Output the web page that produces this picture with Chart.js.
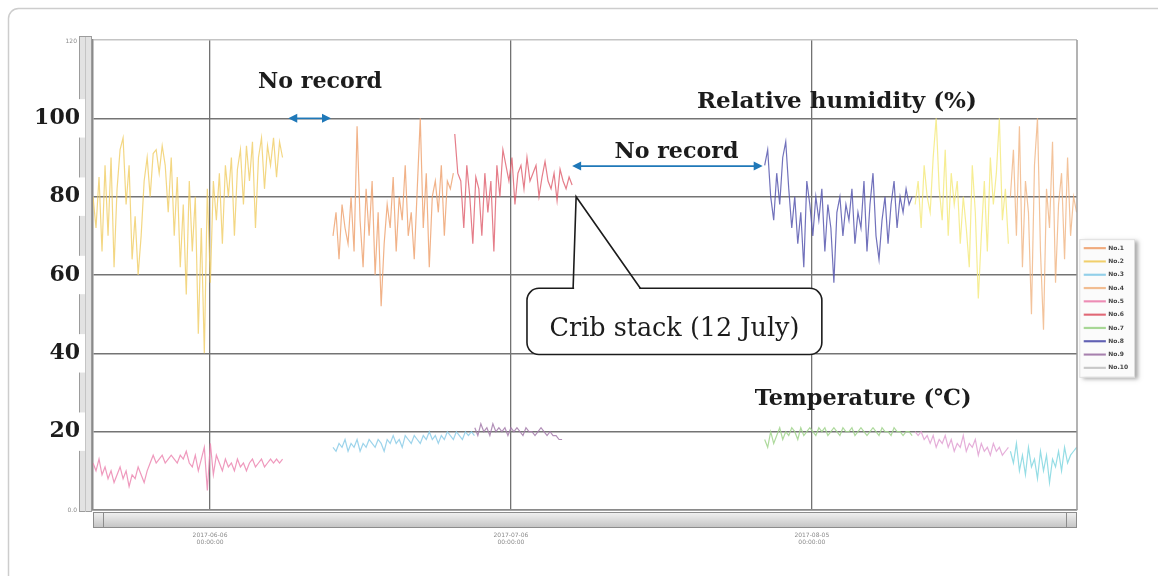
<!DOCTYPE html>
<html>
<head>
<meta charset="utf-8">
<script src="https://cdn.jsdelivr.net/npm/chart.js@4.4.1/dist/chart.umd.min.js"></script>
<style>
  html, body { margin: 0; padding: 0; background: #fff; overflow: hidden; }
</style>
</head>
<body>
<canvas id="rhChart" width="1158" height="576"></canvas>
<script>
// time axis in days since 2017-06-06 00:00, one reading kept every 0.3 day
const stepDays = 0.3;
const tickDays = [0, 30, 60];
const tickLabels = [['2017-06-06', '00:00:00'], ['2017-07-06', '00:00:00'], ['2017-08-05', '00:00:00']];
const yTicks = [20, 40, 60, 80, 100];
const channels = ['No.1', 'No.2', 'No.3', 'No.4', 'No.5', 'No.6', 'No.7', 'No.8', 'No.9', 'No.10'];

// relative humidity (%)
const rhNo2a = [80, 72, 85, 66, 88, 70, 90, 62, 82, 92, 95, 78, 88, 64, 75, 60, 70, 84, 90, 80,
                91, 92, 86, 93, 88, 76, 90, 70, 85, 62, 78, 55, 84, 66, 80, 45, 72, 40, 82, 58,
                84, 74, 86, 68, 88, 80, 90, 70, 87, 92, 78, 93, 84, 94, 72, 90, 95, 82, 93, 88,
                95, 85, 94, 90];
const rhNo1  = [70, 76, 64, 78, 72, 68, 80, 66, 98, 74, 62, 82, 70, 84, 60, 76, 52, 68, 78, 72,
                85, 66, 80, 74, 88, 70, 76, 64, 82, 100, 72, 86, 62, 80, 84, 76, 88, 70, 84, 82, 86];
const rhNo6  = [96, 86, 84, 72, 88, 80, 68, 85, 82, 70, 86, 76, 84, 66, 88, 80, 92, 88, 84, 90,
                78, 86, 88, 82, 90, 84, 86, 88, 80, 85, 89, 84, 82, 86, 79, 87, 84, 82, 85, 83];
const rhNo8  = [88, 92, 80, 74, 86, 78, 90, 94, 82, 72, 80, 68, 76, 62, 84, 78, 70, 80, 74, 82,
                66, 78, 72, 58, 76, 80, 70, 78, 74, 82, 68, 76, 72, 84, 66, 78, 86, 70, 64, 74,
                80, 68, 78, 84, 72, 80, 76, 82, 78, 80];
const rhNo2b = [78, 84, 72, 88, 80, 76, 90, 100, 82, 74, 92, 70, 86, 78, 84, 68, 80, 72, 62, 88,
                76, 54, 70, 84, 66, 90, 78, 86, 100, 74, 82, 68];
const rhNo4  = [80, 92, 70, 98, 62, 84, 76, 50, 88, 100, 66, 46, 82, 72, 94, 58, 78, 86, 64, 90,
                70, 80, 76];

// temperature (℃)
const tNo5a = [12, 10, 13, 9, 11, 8, 10, 7, 9, 11, 8, 10, 6, 9, 8, 11, 9, 7, 10, 12,
               14, 12, 13, 14, 12, 13, 14, 13, 12, 14, 13, 15, 12, 11, 14, 10, 13, 16, 5, 17,
               9, 14, 12, 10, 13, 11, 12, 10, 13, 11, 12, 10, 12, 13, 11, 12, 13, 11, 12, 13,
               12, 13, 12, 13];
const tNo3a = [16, 15, 17, 16, 18, 15, 17, 16, 18, 15, 17, 16, 18, 17, 16, 18, 17, 15, 18, 17,
               19, 17, 18, 16, 19, 18, 17, 19, 18, 17, 19, 18, 20, 18, 19, 17, 19, 18, 20, 19,
               18, 20, 19, 18, 20, 19, 20, 19];
const tNo9  = [21, 19, 22, 20, 21, 19, 22, 20, 21, 20, 21, 19, 21, 20, 21, 20, 19, 21, 20, 20,
               19, 20, 21, 20, 19, 20, 19, 19, 18, 18];
const tNo7  = [18, 16, 20, 17, 19, 21, 18, 20, 19, 21, 20, 18, 21, 19, 20, 21, 20, 19, 21, 20,
               21, 19, 20, 21, 20, 19, 21, 20, 20, 21, 19, 20, 21, 20, 19, 20, 21, 20, 19, 21,
               20, 20, 19, 21, 20, 20, 19, 20, 20, 19];
const tNo5b = [20, 19, 20, 18, 19, 17, 19, 16, 18, 17, 19, 16, 18, 15, 17, 16, 19, 15, 17, 16,
               18, 14, 17, 15, 16, 14, 17, 15, 16, 14, 15, 16];
const tNo3b = [15, 12, 17, 10, 14, 9, 16, 11, 13, 8, 15, 10, 14, 7, 13, 11, 15, 10, 16, 12,
               14, 15, 16];

const toPoints = (start, values) => values.map((v, i) => ({ x: start + i * stepDays, y: v }));

const line = (label, color, start, values) => ({
    label,
    data: values ? toPoints(start, values) : [],
    borderColor: color,
    backgroundColor: color,
    borderWidth: 1.2,
    pointRadius: 0,
    tension: 0
});

const datasets = [
    line(channels[0], 'rgba(238,165,115,0.85)', 12.26, rhNo1),
    line(channels[1], 'rgba(240,205,100,0.8)', -11.67, rhNo2a),
    line(channels[1], 'rgba(244,232,120,0.8)', 70.3, rhNo2b),
    line(channels[2], 'rgba(140,205,232,0.85)', 12.26, tNo3a),
    line(channels[2], 'rgba(130,215,225,0.85)', 79.8, tNo3b),
    line(channels[3], 'rgba(240,180,130,0.8)', 79.8, rhNo4),
    line(channels[4], 'rgba(236,135,178,0.85)', -11.67, tNo5a),
    line(channels[4], 'rgba(225,160,210,0.85)', 70.3, tNo5b),
    line(channels[5], 'rgba(222,92,108,0.8)', 24.4, rhNo6),
    line(channels[6], 'rgba(160,212,140,0.85)', 55.3, tNo7),
    line(channels[7], 'rgba(88,88,175,0.85)', 55.3, rhNo8),
    line(channels[8], 'rgba(165,125,172,0.85)', 26.4, tNo9),
    line(channels[9], 'rgba(196,196,196,0.85)', 0, null)
];

const serif = "'DejaVu Serif', 'Liberation Serif', serif";

// font size that makes text span a given width
const fitFont = (ctx, text, weight, width) => {
    ctx.font = `${weight} 20px ${serif}`;
    return 20 * width / ctx.measureText(text).width;
};

const drawArrow = (ctx, x1, x2, y) => {
    const head = 9, half = 4.5;
    ctx.strokeStyle = '#1f78b8';
    ctx.fillStyle = '#1f78b8';
    ctx.lineWidth = 1.6;
    ctx.beginPath();
    ctx.moveTo(x1 + head - 1, y);
    ctx.lineTo(x2 - head + 1, y);
    ctx.stroke();
    ctx.beginPath();
    ctx.moveTo(x1, y); ctx.lineTo(x1 + head, y - half); ctx.lineTo(x1 + head, y + half);
    ctx.closePath(); ctx.fill();
    ctx.beginPath();
    ctx.moveTo(x2, y); ctx.lineTo(x2 - head, y - half); ctx.lineTo(x2 - head, y + half);
    ctx.closePath(); ctx.fill();
};

const decorPlugin = {
    id: 'decor',
    beforeDraw(chart) {
        const { ctx, chartArea: a, width, height } = chart;
        ctx.save();

        // page frame, only top and left edges are inside the picture
        ctx.strokeStyle = '#cdcdcd';
        ctx.lineWidth = 1.5;
        ctx.beginPath();
        ctx.moveTo(8.5, height);
        ctx.lineTo(8.5, 18.5);
        ctx.arcTo(8.5, 8.5, 18.5, 8.5, 10);
        ctx.lineTo(width, 8.5);
        ctx.stroke();

        // left scroll bar
        ctx.fillStyle = '#e2e2e2';
        ctx.fillRect(a.left - 13, a.top - 3, 12, a.bottom - a.top + 5);
        ctx.strokeStyle = '#9c9c9c';
        ctx.lineWidth = 1;
        ctx.strokeRect(a.left - 13.5, a.top - 3.5, 12, a.bottom - a.top + 5);
        ctx.beginPath();
        ctx.moveTo(a.left - 7.5, a.top - 3); ctx.lineTo(a.left - 7.5, a.bottom + 2);
        ctx.strokeStyle = '#c4c4c4';
        ctx.stroke();

        // bottom scroll bar
        const g = ctx.createLinearGradient(0, a.bottom + 2, 0, a.bottom + 17);
        g.addColorStop(0, '#f2f2f2');
        g.addColorStop(0.5, '#dcdcdc');
        g.addColorStop(1, '#c6c6c6');
        ctx.fillStyle = g;
        ctx.fillRect(a.left, a.bottom + 2, a.right - a.left, 15);
        ctx.strokeStyle = '#8c8c8c';
        ctx.strokeRect(a.left + 0.5, a.bottom + 2.5, a.right - a.left - 1, 15);
        ctx.strokeRect(a.left + 0.5, a.bottom + 2.5, 10, 15);
        ctx.strokeRect(a.right - 10.5, a.bottom + 2.5, 10, 15);

        // tiny labels of the logger software
        ctx.fillStyle = '#8a8a8a';
        ctx.font = "6px 'DejaVu Sans'";
        ctx.textAlign = 'right';
        ctx.textBaseline = 'middle';
        ctx.fillText('120', a.left - 16, a.top + 1);
        ctx.fillText('0.0', a.left - 16, a.bottom);

        // legend background with shadow
        const boxes = chart.legend.legendHitBoxes;
        if (boxes && boxes.length) {
            const left = Math.min(...boxes.map(b => b.left)) - 5;
            const right = Math.max(...boxes.map(b => b.left + b.width)) + 6;
            const top = Math.min(...boxes.map(b => b.top)) - 6;
            const bottom = Math.max(...boxes.map(b => b.top + b.height)) + 6;
            ctx.shadowColor = 'rgba(0,0,0,0.35)';
            ctx.shadowOffsetX = 4;
            ctx.shadowOffsetY = 2;
            ctx.shadowBlur = 4;
            ctx.fillStyle = '#fbfbfb';
            ctx.fillRect(left, top, right - left, bottom - top);
            ctx.shadowColor = 'transparent';
            ctx.strokeStyle = '#e0e0e0';
            ctx.strokeRect(left + 0.5, top + 0.5, right - left, bottom - top);
        }
        ctx.restore();
    },

    afterDraw(chart) {
        const { ctx, chartArea: a } = chart;
        const X = d => chart.scales.x.getPixelForValue(d);
        const Y = v => chart.scales.y.getPixelForValue(v);
        ctx.save();

        // right border of the plot
        ctx.strokeStyle = '#9a9a9a';
        ctx.lineWidth = 1.5;
        ctx.beginPath();
        ctx.moveTo(a.right, a.top); ctx.lineTo(a.right, a.bottom);
        ctx.stroke();

        // "no record" arrows
        drawArrow(ctx, X(7.8), X(12.06), Y(100));
        drawArrow(ctx, X(36.1), X(55.1), Y(87.8));

        // bold labels
        ctx.fillStyle = '#1c1c1c';
        ctx.textBaseline = 'alphabetic';
        const label = (text, width, x, y, align) => {
            ctx.font = `bold ${fitFont(ctx, text, 'bold', width)}px ${serif}`;
            ctx.textAlign = align;
            ctx.fillText(text, x, y);
        };
        label('No record', 124, X(10.97), Y(107.7), 'center');
        label('No record', 124, X(46.5), Y(89.8), 'center');
        label('Relative humidity (%)', 280, X(62.5), Y(102.6), 'center');
        label('Temperature (℃)', 217, X(54.3), Y(26.7), 'left');

        // callout for the crib stack
        const bl = X(31.6), br = X(61.0), bt = Y(56.6), bb = Y(39.7);
        const t1 = X(36.2), t2 = X(42.9), tip = [X(36.5), Y(80)];
        ctx.fillStyle = '#fff';
        ctx.strokeStyle = '#1c1c1c';
        ctx.lineWidth = 1.6;
        ctx.beginPath();
        ctx.roundRect(bl, bt, br - bl, bb - bt, 12);
        ctx.fill();
        ctx.stroke();
        ctx.beginPath();
        ctx.moveTo(t1 + 1, bt); ctx.lineTo(t2 - 1, bt);
        ctx.strokeStyle = '#fff';
        ctx.lineWidth = 2.5;
        ctx.stroke();
        ctx.beginPath();
        ctx.moveTo(t1, bt); ctx.lineTo(tip[0], tip[1]); ctx.lineTo(t2, bt);
        ctx.strokeStyle = '#1c1c1c';
        ctx.lineWidth = 1.6;
        ctx.stroke();

        const crib = 'Crib stack (12 July)';
        ctx.fillStyle = '#1c1c1c';
        ctx.font = `${fitFont(ctx, crib, 'normal', 250)}px ${serif}`;
        ctx.textAlign = 'center';
        ctx.fillText(crib, (bl + br) / 2, Y(44.3));
        ctx.restore();
    }
};

const config = {
    type: 'line',
    data: { datasets },
    plugins: [decorPlugin],
    options: {
        responsive: false,
        animation: false,
        layout: { padding: { top: 40, right: 25, left: 0, bottom: 0 } },
        scales: {
            x: {
                type: 'linear',
                min: -11.67,
                max: 86.44,
                afterBuildTicks: ax => { ax.ticks = tickDays.map(value => ({ value })); },
                afterFit: s => { s.height = 66; },
                ticks: {
                    autoSkip: false,
                    maxRotation: 0,
                    padding: 22,
                    color: '#8a8a8a',
                    font: { family: 'DejaVu Sans', size: 6 },
                    callback: v => tickLabels[tickDays.indexOf(v)]
                },
                grid: { color: '#727272', lineWidth: 1.3, drawTicks: false },
                border: { color: '#8a8a8a', width: 1.5 }
            },
            y: {
                min: 0,
                max: 120,
                afterBuildTicks: ax => { ax.ticks = [0, ...yTicks, 120].map(value => ({ value })); },
                afterFit: s => { s.width = 93; },
                ticks: {
                    padding: 13,
                    color: '#1c1c1c',
                    font: { family: serif, weight: 'bold', size: 22 },
                    showLabelBackdrop: true,
                    backdropColor: c => yTicks.includes(c.tick.value) ? '#fff' : 'rgba(0,0,0,0)',
                    backdropPadding: { top: 6, bottom: 6, left: 4, right: 5 },
                    callback: v => yTicks.includes(v) ? String(v) : ''
                },
                grid: {
                    color: c => c.tick.value === 120 ? '#c4c4c4' : c.tick.value === 0 ? '#8a8a8a' : '#747474',
                    lineWidth: 1.5,
                    drawTicks: false
                },
                border: { color: '#8a8a8a', width: 1.5 }
            }
        },
        plugins: {
            legend: {
                position: 'right',
                align: 'center',
                labels: {
                    boxWidth: 21,
                    boxHeight: 1,
                    padding: 7.3,
                    color: '#454545',
                    font: { family: 'DejaVu Sans', size: 6, weight: 'bold' },
                    filter: (item, data) =>
                        data.datasets.findIndex(d => d.label === item.text) === item.datasetIndex
                }
            },
            tooltip: { enabled: false }
        }
    }
};

const canvas = document.getElementById('rhChart');
const rhChart = new Chart(canvas, config);

// keep the plot's right edge where the logger software had it
const shift = rhChart.chartArea.right - 1077;
if (Math.abs(shift) > 0.5) {
    rhChart.options.layout.padding.right += shift;
    rhChart.update();
}
</script>
</body>
</html>
